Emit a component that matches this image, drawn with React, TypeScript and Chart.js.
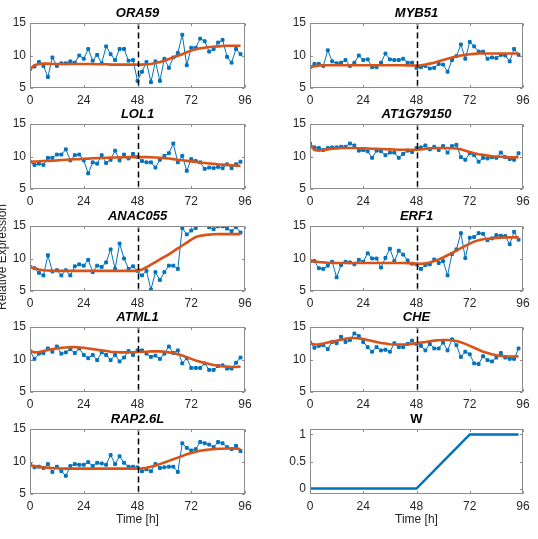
import React, { useEffect, useRef } from "react";
import { Chart, registerables } from "chart.js";

Chart.register(...registerables);

// ---------- data ----------
const hours = [0, 2, 4, 6, 8, 10, 12, 14, 16, 18, 20, 22, 24, 26, 28, 30, 32, 34, 36, 38, 40, 42, 44, 46,
  48, 50, 52, 54, 56, 58, 60, 62, 64, 66, 68, 70, 72, 74, 76, 78, 80, 82, 84, 86, 88, 90, 92, 94];
const timeTicks = [0, 24, 48, 72, 96];
const exprTicks = [5, 10, 15];
const wTicks = [0, 0.5, 1];
const treatmentTime = 48;

const ora59Obs = [7.9, 8.3, 9.0, 8.4, 6.7, 9.7, 8.4, 8.8, 8.8, 9.1, 8.9, 10.0, 9.5, 11.0, 9.2, 10.1, 8.8, 11.4, 10.2, 9.3, 11.0, 11.0, 9.2, 9.3,
  6.1, 7.5, 9.0, 5.9, 9.1, 6.1, 9.5, 8.1, 9.7, 10.4, 13.2, 8.5, 11.2, 11.2, 12.6, 12.2, 10.6, 11.0, 12.0, 12.4, 9.8, 8.9, 11.0, 10.2];
const ora59Fit = [7.9, 8.5, 8.7, 8.75, 8.75, 8.7, 8.7, 8.7, 8.7, 8.7, 8.7, 8.7, 8.7, 8.7, 8.7, 8.65, 8.65, 8.65, 8.6, 8.6, 8.6, 8.6, 8.6, 8.6,
  8.6, 8.6, 8.65, 8.7, 8.85, 9.0, 9.2, 9.45, 9.7, 9.95, 10.2, 10.5, 10.75, 10.95, 11.1, 11.2, 11.3, 11.35, 11.4, 11.45, 11.5, 11.5, 11.5, 11.5];

const myb51Obs = [8.2, 8.7, 8.7, 8.4, 10.8, 9.1, 8.8, 8.9, 9.3, 8.4, 8.9, 10.0, 9.3, 9.4, 8.2, 8.2, 8.9, 10.3, 9.4, 9.3, 9.3, 9.5, 8.9, 8.9,
  8.1, 8.2, 8.4, 8.0, 8.1, 8.7, 8.6, 7.5, 9.3, 9.9, 11.7, 9.5, 12.1, 11.4, 10.6, 10.6, 9.5, 9.7, 9.6, 10.1, 10.0, 9.1, 11.0, 10.1];
const myb51Fit = [8.2, 8.35, 8.45, 8.5, 8.5, 8.5, 8.5, 8.5, 8.5, 8.5, 8.5, 8.5, 8.5, 8.5, 8.5, 8.5, 8.5, 8.5, 8.5, 8.5, 8.5, 8.5, 8.48, 8.46,
  8.45, 8.5, 8.6, 8.75, 8.9, 9.1, 9.3, 9.5, 9.7, 9.85, 10.0, 10.1, 10.2, 10.25, 10.3, 10.3, 10.3, 10.3, 10.3, 10.3, 10.3, 10.3, 10.3, 10.3];

const lol1Obs = [9.2, 8.7, 8.9, 8.7, 9.8, 9.8, 10.3, 10.3, 11.1, 9.4, 10.2, 10.3, 9.4, 7.4, 9.1, 8.9, 10.2, 9.0, 9.5, 10.9, 9.4, 10.3, 9.7, 10.4,
  9.9, 9.3, 9.1, 9.1, 8.3, 9.5, 10.1, 10.5, 12.0, 9.1, 10.1, 7.8, 9.6, 9.3, 9.1, 8.1, 8.3, 8.2, 8.4, 8.2, 8.8, 8.2, 8.8, 9.2];
const lol1Fit = [9.2, 9.22, 9.25, 9.3, 9.33, 9.37, 9.4, 9.45, 9.5, 9.53, 9.57, 9.6, 9.65, 9.68, 9.72, 9.75, 9.78, 9.8, 9.82, 9.85, 9.87, 9.88, 9.9, 9.9,
  9.9, 9.9, 9.9, 9.88, 9.85, 9.8, 9.75, 9.68, 9.6, 9.5, 9.42, 9.33, 9.25, 9.17, 9.08, 9.0, 8.93, 8.87, 8.8, 8.75, 8.7, 8.65, 8.6, 8.57];

const at1g79150Obs = [12.0, 11.4, 11.3, 11.0, 11.3, 11.4, 11.4, 11.5, 11.5, 12.0, 11.7, 10.9, 11.0, 10.8, 9.8, 10.9, 10.8, 10.2, 10.6, 10.6, 9.8, 10.4, 10.9, 10.7,
  11.3, 11.4, 11.7, 11.1, 11.5, 11.0, 11.6, 10.6, 11.6, 11.8, 9.9, 9.5, 10.5, 10.2, 9.2, 9.8, 9.7, 9.9, 9.8, 10.6, 9.9, 9.6, 9.5, 10.5];
const at1g79150Fit = [11.8, 11.0, 10.9, 11.0, 11.1, 11.2, 11.25, 11.3, 11.3, 11.3, 11.3, 11.28, 11.25, 11.22, 11.2, 11.17, 11.15, 11.12, 11.1, 11.08, 11.05, 11.03, 11.02, 11.02,
  11.05, 11.1, 11.18, 11.25, 11.28, 11.3, 11.3, 11.3, 11.28, 11.22, 11.1, 10.9, 10.7, 10.5, 10.35, 10.25, 10.15, 10.05, 10.0, 9.95, 9.9, 9.87, 9.87, 9.9];

const anac055Obs = [8.7, 8.5, 7.8, 7.4, 10.5, 8.0, 8.2, 7.4, 8.2, 7.4, 8.8, 9.1, 8.9, 9.8, 7.9, 8.9, 8.7, 9.4, 11.4, 8.4, 12.3, 10.0, 8.4, 8.8,
  8.1, 7.4, 8.1, 5.2, 7.9, 6.7, 7.9, 8.9, 8.9, 8.4, 14.7, 13.7, 14.3, 14.7, 15.6, 15.4, 14.8, 14.5, 14.95, 14.95, 14.6, 14.2, 14.85, 14.0];
const anac055Fit = [8.7, 8.5, 8.3, 8.2, 8.15, 8.1, 8.1, 8.1, 8.1, 8.1, 8.1, 8.1, 8.1, 8.1, 8.1, 8.1, 8.1, 8.1, 8.1, 8.1, 8.1, 8.1, 8.1, 8.1,
  8.1, 8.3, 8.65, 9.05, 9.45, 9.85, 10.25, 10.65, 11.1, 11.55, 12.0, 12.45, 12.9, 13.3, 13.5, 13.6, 13.68, 13.72, 13.75, 13.75, 13.75, 13.75, 13.75, 13.75];

const erf1Obs = [9.6, 9.6, 8.5, 8.4, 8.9, 9.5, 7.1, 9.0, 9.5, 9.4, 9.1, 9.8, 9.5, 10.8, 10.0, 10.0, 8.6, 10.1, 11.5, 9.6, 11.2, 10.6, 9.7, 9.2,
  9.1, 8.4, 9.0, 9.1, 9.85, 9.3, 9.6, 7.4, 10.7, 11.4, 13.9, 10.05, 13.2, 13.3, 13.9, 13.8, 12.8, 13.1, 13.6, 13.5, 13.45, 12.2, 14.1, 12.9];
const erf1Fit = [9.6, 9.55, 9.45, 9.4, 9.35, 9.3, 9.3, 9.3, 9.3, 9.3, 9.3, 9.3, 9.3, 9.3, 9.3, 9.3, 9.3, 9.3, 9.3, 9.3, 9.3, 9.3, 9.28, 9.25,
  9.2, 9.2, 9.25, 9.38, 9.6, 9.85, 10.15, 10.5, 10.85, 11.2, 11.6, 11.95, 12.3, 12.6, 12.8, 12.95, 13.05, 13.12, 13.17, 13.2, 13.22, 13.25, 13.25, 13.25];

const atml1Obs = [11.3, 10.1, 10.9, 11.0, 11.7, 11.2, 12.0, 10.9, 11.1, 11.6, 11.0, 11.7, 10.7, 10.2, 10.7, 9.9, 11.1, 10.7, 9.9, 10.7, 9.7, 10.3, 11.3, 10.7,
  11.4, 11.4, 10.9, 10.4, 10.6, 10.1, 10.9, 12.0, 11.0, 11.4, 9.4, 10.2, 8.7, 8.7, 8.7, 9.4, 8.4, 8.4, 9.0, 9.1, 8.6, 8.6, 9.5, 10.3];
const atml1Fit = [11.3, 11.1, 11.15, 11.3, 11.45, 11.6, 11.7, 11.8, 11.85, 11.9, 11.9, 11.85, 11.8, 11.7, 11.6, 11.5, 11.4, 11.3, 11.2, 11.15, 11.1, 11.1, 11.1, 11.1,
  11.15, 11.2, 11.2, 11.25, 11.25, 11.25, 11.2, 11.1, 11.0, 10.8, 10.6, 10.35, 10.1, 9.85, 9.65, 9.45, 9.3, 9.15, 9.05, 8.95, 8.9, 8.85, 8.85, 8.9];

const cheObs = [12.6, 11.8, 12.1, 12.2, 11.6, 12.7, 12.5, 13.5, 12.7, 13.0, 14.0, 13.6, 12.7, 11.9, 11.2, 11.9, 11.4, 11.5, 11.2, 12.5, 11.9, 11.9, 12.4, 12.9,
  12.4, 12.1, 11.4, 12.4, 11.7, 11.7, 12.6, 11.4, 13.1, 12.2, 10.4, 11.2, 10.8, 9.4, 9.3, 10.5, 9.9, 9.7, 10.3, 11.0, 10.3, 10.1, 10.1, 11.7];
const cheFit = [12.5, 12.3, 12.35, 12.45, 12.6, 12.75, 12.9, 13.05, 13.2, 13.3, 13.3, 13.25, 13.15, 13.0, 12.85, 12.7, 12.55, 12.45, 12.35, 12.3, 12.3, 12.3, 12.35, 12.4,
  12.5, 12.6, 12.7, 12.8, 12.9, 12.95, 13.0, 13.0, 12.95, 12.85, 12.65, 12.4, 12.1, 11.8, 11.5, 11.2, 11.0, 10.8, 10.65, 10.55, 10.5, 10.45, 10.45, 10.5];

const rap26lObs = [9.6, 9.1, 9.2, 9.0, 9.6, 8.4, 9.2, 8.5, 7.8, 9.3, 9.6, 9.5, 9.5, 9.9, 9.3, 9.8, 9.7, 9.5, 11.0, 9.6, 10.8, 9.8, 9.2, 9.2,
  9.1, 8.5, 8.8, 8.5, 9.6, 9.0, 9.1, 9.2, 9.2, 8.4, 12.8, 12.1, 11.7, 11.9, 13.0, 12.8, 12.6, 12.2, 13.0, 12.8, 12.2, 11.9, 12.4, 11.6];
const rap26lFit = [9.4, 9.3, 9.2, 9.1, 9.05, 9.0, 8.95, 8.9, 8.9, 8.9, 8.9, 8.9, 8.9, 8.9, 8.9, 8.9, 8.9, 8.9, 8.9, 8.9, 8.9, 8.9, 8.9, 8.9,
  8.9, 8.95, 9.05, 9.2, 9.4, 9.6, 9.85, 10.1, 10.35, 10.6, 10.85, 11.1, 11.3, 11.5, 11.65, 11.75, 11.85, 11.9, 11.95, 11.97, 12.0, 12.0, 11.97, 11.9];

const wTimes = [0, 48, 72, 94];
const wValues = [0, 0, 1, 1];

// ---------- styling / layout ----------
const FONT = "'Liberation Sans', Arial, Helvetica, sans-serif";
const BLUE = "#0072BD";
const ORANGE = "#D95319";
const TICK_COLOR = "#262626";
const BOX_COLOR = "#8c8c8c";

const COL_X = [0, 280];
const COL_W = [265, 258];
const ROW_Y = [0, 101, 203, 304, 406];
const Y_AXIS_W = 30;
const PLOT_W = [215, 213];
const TITLE_H = 23;
const PLOT_H = 65;

type PanelSpec = {
  name: string;
  italic: boolean;
  col: number;
  row: number;
  obs?: number[];
  fit?: number[];
  isW?: boolean;
};

const panels: PanelSpec[] = [
  { name: "ORA59", italic: true, col: 0, row: 0, obs: ora59Obs, fit: ora59Fit },
  { name: "MYB51", italic: true, col: 1, row: 0, obs: myb51Obs, fit: myb51Fit },
  { name: "LOL1", italic: true, col: 0, row: 1, obs: lol1Obs, fit: lol1Fit },
  { name: "AT1G79150", italic: true, col: 1, row: 1, obs: at1g79150Obs, fit: at1g79150Fit },
  { name: "ANAC055", italic: true, col: 0, row: 2, obs: anac055Obs, fit: anac055Fit },
  { name: "ERF1", italic: true, col: 1, row: 2, obs: erf1Obs, fit: erf1Fit },
  { name: "ATML1", italic: true, col: 0, row: 3, obs: atml1Obs, fit: atml1Fit },
  { name: "CHE", italic: true, col: 1, row: 3, obs: cheObs, fit: cheFit },
  { name: "RAP2.6L", italic: true, col: 0, row: 4, obs: rap26lObs, fit: rap26lFit },
  { name: "W", italic: false, col: 1, row: 4, isW: true },
];

const matlabBox = {
  id: "matlabBox",
  afterDraw(chart: any, _args: any, opts: any) {
    const { ctx, chartArea: a, scales } = chart;
    const xs = scales.x;
    const ys = scales.y;
    ctx.save();
    if (opts && opts.marker != null) {
      const px = Math.round(xs.getPixelForValue(opts.marker)) + 0.5;
      ctx.setLineDash([6, 3.5]);
      ctx.strokeStyle = "#000";
      ctx.lineWidth = 1.5;
      ctx.beginPath();
      ctx.moveTo(px, a.top);
      ctx.lineTo(px, a.bottom);
      ctx.stroke();
    }
    ctx.setLineDash([]);
    ctx.strokeStyle = BOX_COLOR;
    ctx.lineWidth = 1;
    const l = Math.round(a.left) + 0.5;
    const r = Math.round(a.right) - 0.5;
    const t = Math.round(a.top) + 0.5;
    const b = Math.round(a.bottom) - 0.5;
    ctx.strokeRect(l, t, r - l, b - t);
    const tl = 2.5;
    ctx.beginPath();
    xs.ticks.forEach((tk: any) => {
      const px = Math.round(xs.getPixelForValue(tk.value)) + 0.5;
      ctx.moveTo(px, b);
      ctx.lineTo(px, b - tl);
      ctx.moveTo(px, t);
      ctx.lineTo(px, t + tl);
    });
    ys.ticks.forEach((tk: any) => {
      const py = Math.round(ys.getPixelForValue(tk.value)) + 0.5;
      ctx.moveTo(l, py);
      ctx.lineTo(l + tl, py);
      ctx.moveTo(r, py);
      ctx.lineTo(r - tl, py);
    });
    ctx.stroke();
    ctx.restore();
  },
};

function Panel({ spec }: { spec: PanelSpec }) {
  const ref = useRef<HTMLCanvasElement>(null);
  const bottomRow = spec.row === 4;
  const xAxisH = bottomRow ? 40 : 20;
  const width = COL_W[spec.col];
  const height = TITLE_H + PLOT_H + xAxisH;
  const rightPad = width - Y_AXIS_W - PLOT_W[spec.col];

  useEffect(() => {
    const canvas = ref.current;
    if (!canvas) return;
    const datasets: any[] = [];
    if (spec.isW) {
      datasets.push({
        data: wTimes.map((t, i) => ({ x: t, y: wValues[i] })),
        borderColor: BLUE,
        borderWidth: 2.5,
        pointRadius: 0,
        tension: 0,
      });
    } else {
      datasets.push({
        data: hours.map((t, i) => ({ x: t, y: spec.fit![i] })),
        borderColor: ORANGE,
        borderWidth: 2.6,
        pointRadius: 0,
        tension: 0,
        order: 0,
      });
      datasets.push({
        data: hours.map((t, i) => ({ x: t, y: spec.obs![i] })),
        borderColor: BLUE,
        borderWidth: 1,
        pointStyle: "rect",
        pointRadius: 2,
        pointBorderWidth: 1,
        pointBackgroundColor: BLUE,
        pointBorderColor: BLUE,
        tension: 0,
        order: 1,
      });
    }
    const yTicks = spec.isW ? wTicks : exprTicks;
    const chart = new Chart(canvas, {
      type: "line",
      data: { datasets },
      plugins: [matlabBox],
      options: {
        animation: false,
        responsive: false,
        devicePixelRatio: 1,
        events: [],
        layout: { padding: { left: 0, right: rightPad, top: 0, bottom: 0 } },
        plugins: {
          legend: { display: false },
          tooltip: { enabled: false },
          title: {
            display: true,
            fullSize: false,
            text: spec.name,
            color: "#000",
            font: { family: FONT, size: 13, weight: "bold", style: spec.italic ? "italic" : "normal", lineHeight: 1.2 },
            padding: { top: 5.5, bottom: 1.9 },
          },
          matlabBox: { marker: spec.isW ? null : treatmentTime },
        } as any,
        scales: {
          x: {
            type: "linear",
            min: timeTicks[0],
            max: timeTicks[timeTicks.length - 1],
            afterBuildTicks: (s: any) => {
              s.ticks = timeTicks.map((v) => ({ value: v }));
            },
            afterFit: (s: any) => {
              s.height = xAxisH;
            },
            grid: { display: false, drawTicks: false },
            border: { display: false },
            ticks: {
              color: TICK_COLOR,
              font: { family: FONT, size: 12 },
              padding: 5,
              maxRotation: 0,
              autoSkip: false,
              callback: (v: any) => String(v),
            },
            title: bottomRow
              ? {
                  display: true,
                  text: "Time [h]",
                  color: TICK_COLOR,
                  font: { family: FONT, size: 12 },
                  padding: { top: 0, bottom: 7 },
                }
              : { display: false },
          },
          y: {
            type: "linear",
            min: spec.isW ? -0.1 : 5,
            max: spec.isW ? 1.1 : 15,
            afterBuildTicks: (s: any) => {
              s.ticks = yTicks.map((v) => ({ value: v }));
            },
            afterFit: (s: any) => {
              s.width = Y_AXIS_W;
            },
            grid: { display: false, drawTicks: false },
            border: { display: false },
            ticks: {
              color: TICK_COLOR,
              font: { family: FONT, size: 12 },
              padding: 4,
              autoSkip: false,
              callback: (v: any) => String(v),
            },
          },
        },
      } as any,
    });
    return () => chart.destroy();
  }, []);

  return (
    <canvas
      ref={ref}
      width={width}
      height={height}
      style={{
        position: "absolute",
        left: COL_X[spec.col],
        top: ROW_Y[spec.row],
        width,
        height,
      }}
    />
  );
}

export default function App() {
  return (
    <div
      style={{
        position: "absolute",
        left: 0,
        top: 0,
        width: 538,
        height: 539,
        overflow: "hidden",
        background: "#fff",
      }}
    >
      {panels.map((p) => (
        <Panel key={p.name} spec={p} />
      ))}
      <div
        style={{
          position: "absolute",
          left: 2 - 70,
          top: 257 - 7,
          width: 140,
          height: 14,
          lineHeight: "14px",
          fontSize: 12,
          fontFamily: FONT,
          color: TICK_COLOR,
          textAlign: "center",
          whiteSpace: "nowrap",
          transform: "rotate(-90deg)",
          transformOrigin: "50% 50%",
        }}
      >
        Relative Expression
      </div>
    </div>
  );
}
